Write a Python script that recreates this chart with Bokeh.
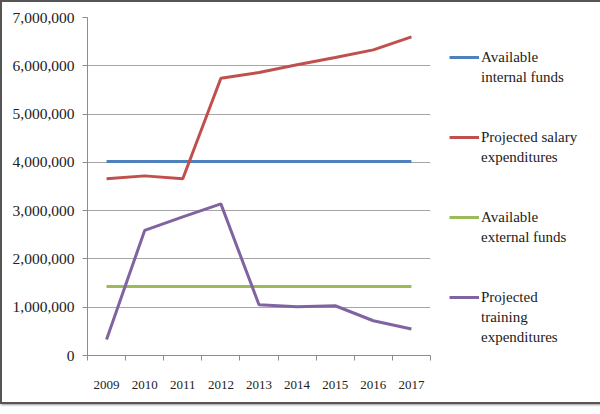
from bokeh.plotting import figure
from bokeh.models import Legend, LegendItem, FixedTicker, NumeralTickFormatter, Range1d
from bokeh.embed import file_html
from bokeh.resources import INLINE

years = [2009, 2010, 2011, 2012, 2013, 2014, 2015, 2016, 2017]
internal_funds = [4020000] * 9
salary_exp = [3660000, 3720000, 3660000, 5740000, 5860000, 6020000, 6170000, 6330000, 6600000]
external_funds = [1430000] * 9
training_exp = [330000, 2590000, 2870000, 3140000, 1050000, 1010000, 1030000, 720000, 550000]
y_ticks = [0, 1000000, 2000000, 3000000, 4000000, 5000000, 6000000, 7000000]
labels = [["Available", "internal funds"], ["Projected salary", "expenditures"],
          ["Available", "external funds"], ["Projected", "training", "expenditures"]]
colors = ["#4f81bd", "#c0504d", "#9bbb59", "#8064a2"]

FONT = "Liberation Serif"

p = figure(frame_width=343, frame_height=338, output_backend="svg", toolbar_location=None,
           x_range=Range1d(years[0] - 0.5, years[-1] + 0.5),
           y_range=Range1d(0, 7000000),
           min_border_left=85, min_border_top=15, min_border_bottom=47, min_border_right=157)
p.outline_line_color = None
p.xgrid.grid_line_color = None
p.ygrid.grid_line_color = "#a6a6a6"
p.ygrid.grid_line_width = 1

series = [internal_funds, salary_exp, external_funds, training_exp]
renderers = []
for vals, c in zip(series, colors):
    r = p.line(years, vals, line_color=c, line_width=3)
    renderers.append(r)

# y axis
p.yaxis.ticker = FixedTicker(ticks=y_ticks)
p.yaxis.formatter = NumeralTickFormatter(format="0,0")
p.yaxis.axis_line_color = "#8c8c8c"
p.yaxis.major_tick_line_color = "#8c8c8c"
p.yaxis.major_tick_out = 5
p.yaxis.major_tick_in = 0
p.yaxis.minor_tick_line_color = None
p.yaxis.major_label_standoff = 8
p.yaxis.major_label_text_font = FONT
p.yaxis.major_label_text_font_size = "15.5px"
p.yaxis.major_label_text_color = "#222222"

# x axis
bounds = [y - 0.5 for y in years] + [years[-1] + 0.5]
p.xaxis.ticker = FixedTicker(ticks=years, minor_ticks=bounds)
p.xaxis.major_label_overrides = {y: str(y) for y in years}
p.xaxis.axis_line_color = "#8c8c8c"
p.xaxis.major_tick_line_color = None
p.xaxis.major_tick_out = 0
p.xaxis.major_tick_in = 0
p.xaxis.minor_tick_line_color = "#8c8c8c"
p.xaxis.minor_tick_out = 5
p.xaxis.minor_tick_in = 0
p.xaxis.major_label_standoff = 20
p.xaxis.major_label_text_font = FONT
p.xaxis.major_label_text_font_size = "13px"
p.xaxis.major_label_text_color = "#222222"

# legend: first line of each entry carries the glyph, further lines and spacer rows have none
items = []
for k, (lines, r) in enumerate(zip(labels, renderers)):
    items.append(LegendItem(label=lines[0], renderers=[r]))
    items += [LegendItem(label=t, renderers=[]) for t in lines[1:]]
    if k < len(labels) - 1:
        items += [LegendItem(label=" ", renderers=[]) for _ in range(4 - len(lines))]
lg = Legend(items=items, location=(19, 8))
lg.border_line_color = None
lg.background_fill_alpha = 0
lg.glyph_width = 30
lg.glyph_height = 20
lg.label_height = 20
lg.label_standoff = 2
lg.spacing = 0
lg.padding = 0
lg.margin = 0
lg.label_text_font = FONT
lg.label_text_font_size = "15px"
lg.label_text_color = "#222222"
p.add_layout(lg, "right")

p.styles = {"border": "2px solid #555555", "box-shadow": "1px 1px 2px #999999"}

open("out.html", "w").write(file_html(p, INLINE))
